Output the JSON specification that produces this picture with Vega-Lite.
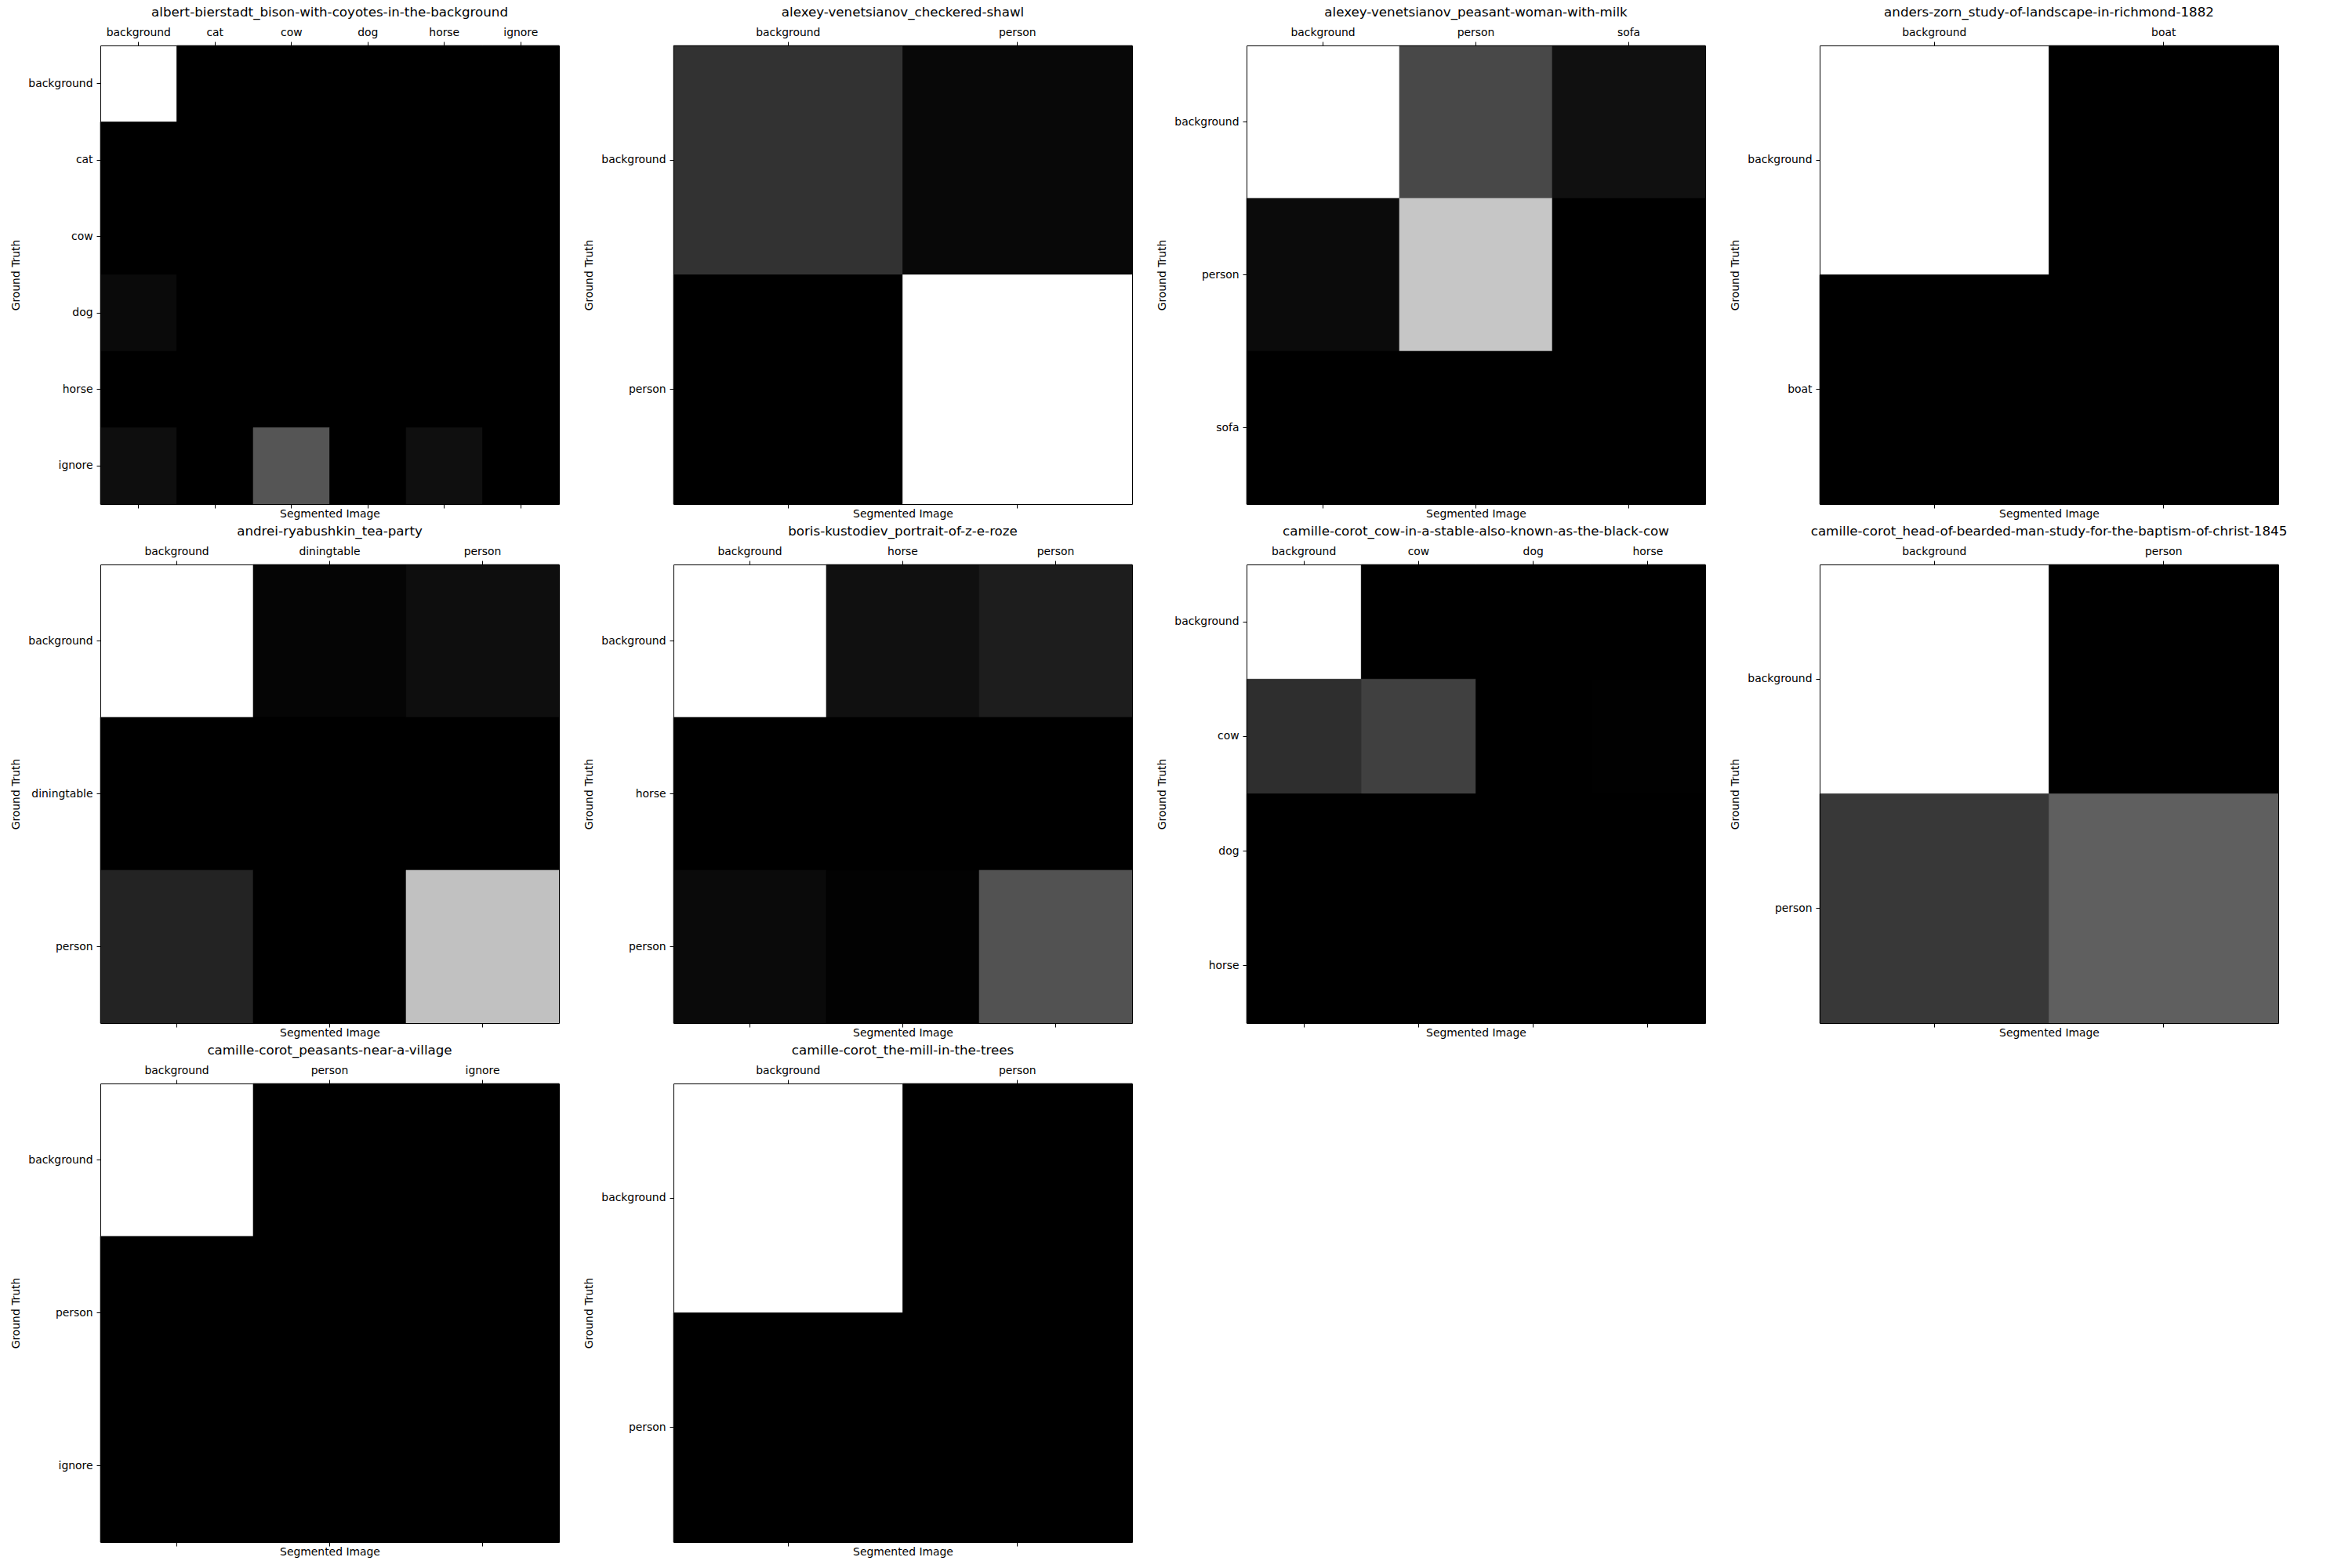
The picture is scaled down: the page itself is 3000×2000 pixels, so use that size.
{
"$schema": "https://vega.github.io/schema/vega-lite/v6.json",
"padding": {"left": 13, "top": 8, "right": 5, "bottom": 5},
"background": "#ffffff",
"columns": 4,
"spacing": {"row": 77, "column": 146},
"bounds": "flush",
"config": {
  "view": {"stroke": null, "fill": "#000000"},
  "scale": {"bandPaddingInner": 0, "bandPaddingOuter": 0, "rectBandPaddingInner": 0},
  "axis": {"grid": false, "domainColor": "#000000", "domainWidth": 1, "tickColor": "#000000", "tickSize": 5, "tickWidth": 1, "labelFont": "DejaVu Sans", "labelFontSize": 13.9, "labelColor": "#000000", "labelAngle": 0, "labelPadding": 5, "titleFont": "DejaVu Sans", "titleFontSize": 13.9, "titleFontWeight": "normal", "titleColor": "#000000", "titlePadding": 8, "zindex": 1, "labelOverlap": false, "labelLimit": 0},
  "title": {"font": "DejaVu Sans", "fontSize": 16.7, "fontWeight": "normal", "color": "#000000", "offset": 9, "anchor": "middle"}
},
"concat": [
{"title": "albert-bierstadt_bison-with-coyotes-in-the-background", "width": 585, "height": 585,
 "data": {"values": [
  {"gt":"background","seg":"background","v":1},{"gt":"background","seg":"cat","v":0},{"gt":"background","seg":"cow","v":0},{"gt":"background","seg":"dog","v":0},{"gt":"background","seg":"horse","v":0},{"gt":"background","seg":"ignore","v":0},
  {"gt":"cat","seg":"background","v":0},{"gt":"cat","seg":"cat","v":0},{"gt":"cat","seg":"cow","v":0},{"gt":"cat","seg":"dog","v":0},{"gt":"cat","seg":"horse","v":0},{"gt":"cat","seg":"ignore","v":0},
  {"gt":"cow","seg":"background","v":0},{"gt":"cow","seg":"cat","v":0},{"gt":"cow","seg":"cow","v":0},{"gt":"cow","seg":"dog","v":0},{"gt":"cow","seg":"horse","v":0},{"gt":"cow","seg":"ignore","v":0},
  {"gt":"dog","seg":"background","v":0.04},{"gt":"dog","seg":"cat","v":0},{"gt":"dog","seg":"cow","v":0},{"gt":"dog","seg":"dog","v":0},{"gt":"dog","seg":"horse","v":0},{"gt":"dog","seg":"ignore","v":0},
  {"gt":"horse","seg":"background","v":0},{"gt":"horse","seg":"cat","v":0},{"gt":"horse","seg":"cow","v":0},{"gt":"horse","seg":"dog","v":0},{"gt":"horse","seg":"horse","v":0},{"gt":"horse","seg":"ignore","v":0},
  {"gt":"ignore","seg":"background","v":0.055},{"gt":"ignore","seg":"cat","v":0},{"gt":"ignore","seg":"cow","v":0.333},{"gt":"ignore","seg":"dog","v":0},{"gt":"ignore","seg":"horse","v":0.06},{"gt":"ignore","seg":"ignore","v":0}
 ]},
 "encoding": {"color": {"field": "v", "type": "quantitative", "scale": {"domain": [0, 1], "range": ["#000000", "#ffffff"], "interpolate": "rgb"}, "legend": null}, "stroke": {"field": "v", "type": "quantitative", "scale": {"domain": [0, 1], "range": ["#000000", "#ffffff"], "interpolate": "rgb"}, "legend": null}},
 "layer": [
  {"mark": {"type": "rect", "strokeWidth": 0.6}, "encoding": {"x": {"field": "seg", "type": "nominal", "sort": null, "axis": {"orient": "top", "title": null, "zindex": 2}}, "y": {"field": "gt", "type": "nominal", "sort": null, "axis": {"orient": "left", "title": "Ground Truth", "zindex": 2}}}},
  {"mark": {"type": "rect", "opacity": 0}, "encoding": {"x": {"field": "seg", "type": "nominal", "sort": null, "axis": {"orient": "bottom", "labels": false, "title": "Segmented Image", "titlePadding": 0, "zindex": 2}}, "y": {"field": "gt", "type": "nominal", "sort": null, "axis": {"orient": "right", "labels": false, "ticks": false, "title": null, "zindex": 2}}}}
 ],
 "resolve": {"axis": {"x": "independent", "y": "independent"}}},
{"title": "alexey-venetsianov_checkered-shawl", "width": 585, "height": 585,
 "data": {"values": [
  {"gt":"background","seg":"background","v":0.196},{"gt":"background","seg":"person","v":0.03},
  {"gt":"person","seg":"background","v":0},{"gt":"person","seg":"person","v":1}
 ]},
 "encoding": {"color": {"field": "v", "type": "quantitative", "scale": {"domain": [0, 1], "range": ["#000000", "#ffffff"], "interpolate": "rgb"}, "legend": null}, "stroke": {"field": "v", "type": "quantitative", "scale": {"domain": [0, 1], "range": ["#000000", "#ffffff"], "interpolate": "rgb"}, "legend": null}},
 "layer": [
  {"mark": {"type": "rect", "strokeWidth": 0.6}, "encoding": {"x": {"field": "seg", "type": "nominal", "sort": null, "axis": {"orient": "top", "title": null, "zindex": 2}}, "y": {"field": "gt", "type": "nominal", "sort": null, "axis": {"orient": "left", "title": "Ground Truth", "zindex": 2}}}},
  {"mark": {"type": "rect", "opacity": 0}, "encoding": {"x": {"field": "seg", "type": "nominal", "sort": null, "axis": {"orient": "bottom", "labels": false, "title": "Segmented Image", "titlePadding": 0, "zindex": 2}}, "y": {"field": "gt", "type": "nominal", "sort": null, "axis": {"orient": "right", "labels": false, "ticks": false, "title": null, "zindex": 2}}}}
 ],
 "resolve": {"axis": {"x": "independent", "y": "independent"}}},
{"title": "alexey-venetsianov_peasant-woman-with-milk", "width": 585, "height": 585,
 "data": {"values": [
  {"gt":"background","seg":"background","v":1},{"gt":"background","seg":"person","v":0.282},{"gt":"background","seg":"sofa","v":0.063},
  {"gt":"person","seg":"background","v":0.043},{"gt":"person","seg":"person","v":0.776},{"gt":"person","seg":"sofa","v":0},
  {"gt":"sofa","seg":"background","v":0},{"gt":"sofa","seg":"person","v":0},{"gt":"sofa","seg":"sofa","v":0}
 ]},
 "encoding": {"color": {"field": "v", "type": "quantitative", "scale": {"domain": [0, 1], "range": ["#000000", "#ffffff"], "interpolate": "rgb"}, "legend": null}, "stroke": {"field": "v", "type": "quantitative", "scale": {"domain": [0, 1], "range": ["#000000", "#ffffff"], "interpolate": "rgb"}, "legend": null}},
 "layer": [
  {"mark": {"type": "rect", "strokeWidth": 0.6}, "encoding": {"x": {"field": "seg", "type": "nominal", "sort": null, "axis": {"orient": "top", "title": null, "zindex": 2}}, "y": {"field": "gt", "type": "nominal", "sort": null, "axis": {"orient": "left", "title": "Ground Truth", "zindex": 2}}}},
  {"mark": {"type": "rect", "opacity": 0}, "encoding": {"x": {"field": "seg", "type": "nominal", "sort": null, "axis": {"orient": "bottom", "labels": false, "title": "Segmented Image", "titlePadding": 0, "zindex": 2}}, "y": {"field": "gt", "type": "nominal", "sort": null, "axis": {"orient": "right", "labels": false, "ticks": false, "title": null, "zindex": 2}}}}
 ],
 "resolve": {"axis": {"x": "independent", "y": "independent"}}},
{"title": "anders-zorn_study-of-landscape-in-richmond-1882", "width": 585, "height": 585,
 "data": {"values": [
  {"gt":"background","seg":"background","v":1},{"gt":"background","seg":"boat","v":0},
  {"gt":"boat","seg":"background","v":0},{"gt":"boat","seg":"boat","v":0}
 ]},
 "encoding": {"color": {"field": "v", "type": "quantitative", "scale": {"domain": [0, 1], "range": ["#000000", "#ffffff"], "interpolate": "rgb"}, "legend": null}, "stroke": {"field": "v", "type": "quantitative", "scale": {"domain": [0, 1], "range": ["#000000", "#ffffff"], "interpolate": "rgb"}, "legend": null}},
 "layer": [
  {"mark": {"type": "rect", "strokeWidth": 0.6}, "encoding": {"x": {"field": "seg", "type": "nominal", "sort": null, "axis": {"orient": "top", "title": null, "zindex": 2}}, "y": {"field": "gt", "type": "nominal", "sort": null, "axis": {"orient": "left", "title": "Ground Truth", "zindex": 2}}}},
  {"mark": {"type": "rect", "opacity": 0}, "encoding": {"x": {"field": "seg", "type": "nominal", "sort": null, "axis": {"orient": "bottom", "labels": false, "title": "Segmented Image", "titlePadding": 0, "zindex": 2}}, "y": {"field": "gt", "type": "nominal", "sort": null, "axis": {"orient": "right", "labels": false, "ticks": false, "title": null, "zindex": 2}}}}
 ],
 "resolve": {"axis": {"x": "independent", "y": "independent"}}},
{"title": "andrei-ryabushkin_tea-party", "width": 585, "height": 585,
 "data": {"values": [
  {"gt":"background","seg":"background","v":1},{"gt":"background","seg":"diningtable","v":0.02},{"gt":"background","seg":"person","v":0.055},
  {"gt":"diningtable","seg":"background","v":0},{"gt":"diningtable","seg":"diningtable","v":0},{"gt":"diningtable","seg":"person","v":0},
  {"gt":"person","seg":"background","v":0.137},{"gt":"person","seg":"diningtable","v":0},{"gt":"person","seg":"person","v":0.757}
 ]},
 "encoding": {"color": {"field": "v", "type": "quantitative", "scale": {"domain": [0, 1], "range": ["#000000", "#ffffff"], "interpolate": "rgb"}, "legend": null}, "stroke": {"field": "v", "type": "quantitative", "scale": {"domain": [0, 1], "range": ["#000000", "#ffffff"], "interpolate": "rgb"}, "legend": null}},
 "layer": [
  {"mark": {"type": "rect", "strokeWidth": 0.6}, "encoding": {"x": {"field": "seg", "type": "nominal", "sort": null, "axis": {"orient": "top", "title": null, "zindex": 2}}, "y": {"field": "gt", "type": "nominal", "sort": null, "axis": {"orient": "left", "title": "Ground Truth", "zindex": 2}}}},
  {"mark": {"type": "rect", "opacity": 0}, "encoding": {"x": {"field": "seg", "type": "nominal", "sort": null, "axis": {"orient": "bottom", "labels": false, "title": "Segmented Image", "titlePadding": 0, "zindex": 2}}, "y": {"field": "gt", "type": "nominal", "sort": null, "axis": {"orient": "right", "labels": false, "ticks": false, "title": null, "zindex": 2}}}}
 ],
 "resolve": {"axis": {"x": "independent", "y": "independent"}}},
{"title": "boris-kustodiev_portrait-of-z-e-roze", "width": 585, "height": 585,
 "data": {"values": [
  {"gt":"background","seg":"background","v":1},{"gt":"background","seg":"horse","v":0.063},{"gt":"background","seg":"person","v":0.114},
  {"gt":"horse","seg":"background","v":0},{"gt":"horse","seg":"horse","v":0},{"gt":"horse","seg":"person","v":0},
  {"gt":"person","seg":"background","v":0.039},{"gt":"person","seg":"horse","v":0.008},{"gt":"person","seg":"person","v":0.322}
 ]},
 "encoding": {"color": {"field": "v", "type": "quantitative", "scale": {"domain": [0, 1], "range": ["#000000", "#ffffff"], "interpolate": "rgb"}, "legend": null}, "stroke": {"field": "v", "type": "quantitative", "scale": {"domain": [0, 1], "range": ["#000000", "#ffffff"], "interpolate": "rgb"}, "legend": null}},
 "layer": [
  {"mark": {"type": "rect", "strokeWidth": 0.6}, "encoding": {"x": {"field": "seg", "type": "nominal", "sort": null, "axis": {"orient": "top", "title": null, "zindex": 2}}, "y": {"field": "gt", "type": "nominal", "sort": null, "axis": {"orient": "left", "title": "Ground Truth", "zindex": 2}}}},
  {"mark": {"type": "rect", "opacity": 0}, "encoding": {"x": {"field": "seg", "type": "nominal", "sort": null, "axis": {"orient": "bottom", "labels": false, "title": "Segmented Image", "titlePadding": 0, "zindex": 2}}, "y": {"field": "gt", "type": "nominal", "sort": null, "axis": {"orient": "right", "labels": false, "ticks": false, "title": null, "zindex": 2}}}}
 ],
 "resolve": {"axis": {"x": "independent", "y": "independent"}}},
{"title": "camille-corot_cow-in-a-stable-also-known-as-the-black-cow", "width": 585, "height": 585,
 "data": {"values": [
  {"gt":"background","seg":"background","v":1},{"gt":"background","seg":"cow","v":0},{"gt":"background","seg":"dog","v":0},{"gt":"background","seg":"horse","v":0},
  {"gt":"cow","seg":"background","v":0.18},{"gt":"cow","seg":"cow","v":0.251},{"gt":"cow","seg":"dog","v":0},{"gt":"cow","seg":"horse","v":0.004},
  {"gt":"dog","seg":"background","v":0},{"gt":"dog","seg":"cow","v":0},{"gt":"dog","seg":"dog","v":0},{"gt":"dog","seg":"horse","v":0},
  {"gt":"horse","seg":"background","v":0},{"gt":"horse","seg":"cow","v":0},{"gt":"horse","seg":"dog","v":0},{"gt":"horse","seg":"horse","v":0}
 ]},
 "encoding": {"color": {"field": "v", "type": "quantitative", "scale": {"domain": [0, 1], "range": ["#000000", "#ffffff"], "interpolate": "rgb"}, "legend": null}, "stroke": {"field": "v", "type": "quantitative", "scale": {"domain": [0, 1], "range": ["#000000", "#ffffff"], "interpolate": "rgb"}, "legend": null}},
 "layer": [
  {"mark": {"type": "rect", "strokeWidth": 0.6}, "encoding": {"x": {"field": "seg", "type": "nominal", "sort": null, "axis": {"orient": "top", "title": null, "zindex": 2}}, "y": {"field": "gt", "type": "nominal", "sort": null, "axis": {"orient": "left", "title": "Ground Truth", "zindex": 2}}}},
  {"mark": {"type": "rect", "opacity": 0}, "encoding": {"x": {"field": "seg", "type": "nominal", "sort": null, "axis": {"orient": "bottom", "labels": false, "title": "Segmented Image", "titlePadding": 0, "zindex": 2}}, "y": {"field": "gt", "type": "nominal", "sort": null, "axis": {"orient": "right", "labels": false, "ticks": false, "title": null, "zindex": 2}}}}
 ],
 "resolve": {"axis": {"x": "independent", "y": "independent"}}},
{"title": "camille-corot_head-of-bearded-man-study-for-the-baptism-of-christ-1845", "width": 585, "height": 585,
 "data": {"values": [
  {"gt":"background","seg":"background","v":1},{"gt":"background","seg":"person","v":0},
  {"gt":"person","seg":"background","v":0.22},{"gt":"person","seg":"person","v":0.373}
 ]},
 "encoding": {"color": {"field": "v", "type": "quantitative", "scale": {"domain": [0, 1], "range": ["#000000", "#ffffff"], "interpolate": "rgb"}, "legend": null}, "stroke": {"field": "v", "type": "quantitative", "scale": {"domain": [0, 1], "range": ["#000000", "#ffffff"], "interpolate": "rgb"}, "legend": null}},
 "layer": [
  {"mark": {"type": "rect", "strokeWidth": 0.6}, "encoding": {"x": {"field": "seg", "type": "nominal", "sort": null, "axis": {"orient": "top", "title": null, "zindex": 2}}, "y": {"field": "gt", "type": "nominal", "sort": null, "axis": {"orient": "left", "title": "Ground Truth", "zindex": 2}}}},
  {"mark": {"type": "rect", "opacity": 0}, "encoding": {"x": {"field": "seg", "type": "nominal", "sort": null, "axis": {"orient": "bottom", "labels": false, "title": "Segmented Image", "titlePadding": 0, "zindex": 2}}, "y": {"field": "gt", "type": "nominal", "sort": null, "axis": {"orient": "right", "labels": false, "ticks": false, "title": null, "zindex": 2}}}}
 ],
 "resolve": {"axis": {"x": "independent", "y": "independent"}}},
{"title": "camille-corot_peasants-near-a-village", "width": 585, "height": 585,
 "data": {"values": [
  {"gt":"background","seg":"background","v":1},{"gt":"background","seg":"person","v":0},{"gt":"background","seg":"ignore","v":0},
  {"gt":"person","seg":"background","v":0},{"gt":"person","seg":"person","v":0},{"gt":"person","seg":"ignore","v":0},
  {"gt":"ignore","seg":"background","v":0},{"gt":"ignore","seg":"person","v":0},{"gt":"ignore","seg":"ignore","v":0}
 ]},
 "encoding": {"color": {"field": "v", "type": "quantitative", "scale": {"domain": [0, 1], "range": ["#000000", "#ffffff"], "interpolate": "rgb"}, "legend": null}, "stroke": {"field": "v", "type": "quantitative", "scale": {"domain": [0, 1], "range": ["#000000", "#ffffff"], "interpolate": "rgb"}, "legend": null}},
 "layer": [
  {"mark": {"type": "rect", "strokeWidth": 0.6}, "encoding": {"x": {"field": "seg", "type": "nominal", "sort": null, "axis": {"orient": "top", "title": null, "zindex": 2}}, "y": {"field": "gt", "type": "nominal", "sort": null, "axis": {"orient": "left", "title": "Ground Truth", "zindex": 2}}}},
  {"mark": {"type": "rect", "opacity": 0}, "encoding": {"x": {"field": "seg", "type": "nominal", "sort": null, "axis": {"orient": "bottom", "labels": false, "title": "Segmented Image", "titlePadding": 0, "zindex": 2}}, "y": {"field": "gt", "type": "nominal", "sort": null, "axis": {"orient": "right", "labels": false, "ticks": false, "title": null, "zindex": 2}}}}
 ],
 "resolve": {"axis": {"x": "independent", "y": "independent"}}},
{"title": "camille-corot_the-mill-in-the-trees", "width": 585, "height": 585,
 "data": {"values": [
  {"gt":"background","seg":"background","v":1},{"gt":"background","seg":"person","v":0},
  {"gt":"person","seg":"background","v":0},{"gt":"person","seg":"person","v":0}
 ]},
 "encoding": {"color": {"field": "v", "type": "quantitative", "scale": {"domain": [0, 1], "range": ["#000000", "#ffffff"], "interpolate": "rgb"}, "legend": null}, "stroke": {"field": "v", "type": "quantitative", "scale": {"domain": [0, 1], "range": ["#000000", "#ffffff"], "interpolate": "rgb"}, "legend": null}},
 "layer": [
  {"mark": {"type": "rect", "strokeWidth": 0.6}, "encoding": {"x": {"field": "seg", "type": "nominal", "sort": null, "axis": {"orient": "top", "title": null, "zindex": 2}}, "y": {"field": "gt", "type": "nominal", "sort": null, "axis": {"orient": "left", "title": "Ground Truth", "zindex": 2}}}},
  {"mark": {"type": "rect", "opacity": 0}, "encoding": {"x": {"field": "seg", "type": "nominal", "sort": null, "axis": {"orient": "bottom", "labels": false, "title": "Segmented Image", "titlePadding": 0, "zindex": 2}}, "y": {"field": "gt", "type": "nominal", "sort": null, "axis": {"orient": "right", "labels": false, "ticks": false, "title": null, "zindex": 2}}}}
 ],
 "resolve": {"axis": {"x": "independent", "y": "independent"}}}
]
}
